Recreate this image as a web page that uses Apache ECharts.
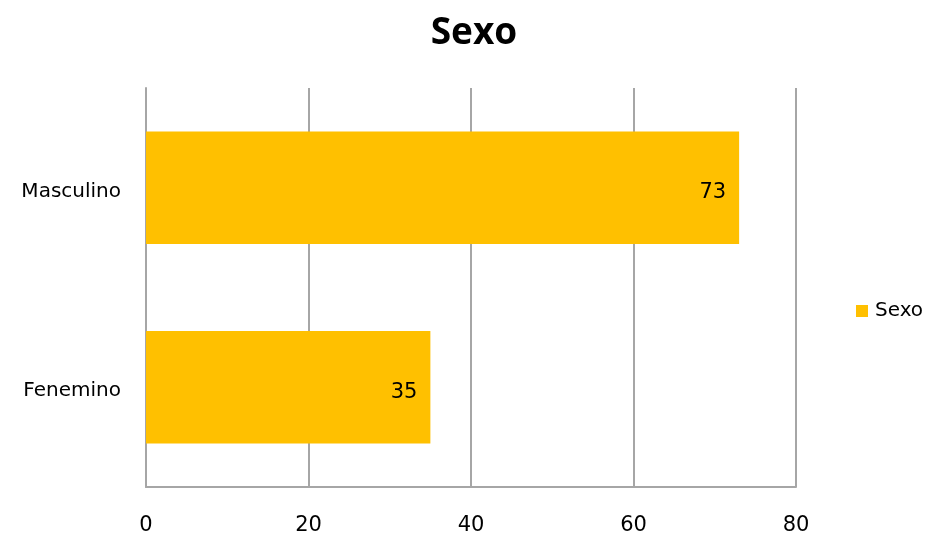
<!DOCTYPE html>
<html>
<head>
<meta charset="utf-8">
<script src="https://cdn.jsdelivr.net/npm/echarts@6/dist/echarts.min.js"></script>
<style>
  html, body { margin: 0; padding: 0; background: #fff; }
  #chart { width: 930px; height: 536px; }
</style>
</head>
<body>
<div id="chart"></div>
<script>
// Respondents by sex
const categories = ['Fenemino', 'Masculino'];
const seriesName = 'Sexo';
const values = [35, 73];
const xTicks = { min: 0, max: 80, interval: 20 };

const chart = echarts.init(document.getElementById('chart'), null, { renderer: 'canvas' });
const titleFont = '"Open Sans", "DejaVu Sans", sans-serif';
const font = '"DejaVu Sans", "Open Sans", sans-serif';

chart.setOption({
  animation: false,
  backgroundColor: '#ffffff',
  title: {
    text: 'Sexo',
    left: 469,
    textAlign: 'center',
    top: 10,
    textStyle: { fontFamily: titleFont, fontSize: 37, fontWeight: 'bold', color: '#000' }
  },
  legend: {
    data: [seriesName],
    orient: 'vertical',
    left: 851,
    top: 296,
    itemWidth: 12,
    itemHeight: 12,
    itemGap: 6,
    icon: 'rect',
    textStyle: { fontFamily: font, fontSize: 20, color: '#000', padding: [0, 0, 0, 2] }
  },
  grid: { left: 146, right: 134, top: 88, bottom: 48, containLabel: false },
  xAxis: {
    type: 'value',
    min: xTicks.min,
    max: xTicks.max,
    interval: xTicks.interval,
    axisLine: { show: true, lineStyle: { color: '#a6a6a6', width: 2 } },
    axisTick: { show: false },
    axisLabel: { fontFamily: font, fontSize: 21, color: '#000', margin: 28 },
    splitLine: { show: true, lineStyle: { color: '#a6a6a6', width: 2 } }
  },
  yAxis: {
    type: 'category',
    data: categories,
    axisLine: { show: true, lineStyle: { color: '#a6a6a6', width: 2 } },
    axisTick: { show: false },
    axisLabel: {
      fontFamily: font, fontSize: 20, color: '#000', margin: 25,
      verticalAlign: 'top', lineHeight: 8
    }
  },
  series: [{
    name: seriesName,
    type: 'bar',
    data: values,
    barWidth: '56.5%',
    itemStyle: { color: '#FFC000' },
    label: {
      show: true,
      position: 'insideRight',
      distance: 13,
      offset: [0, 5],
      fontFamily: font,
      fontSize: 21,
      color: '#000'
    }
  }]
});
</script>
</body>
</html>
